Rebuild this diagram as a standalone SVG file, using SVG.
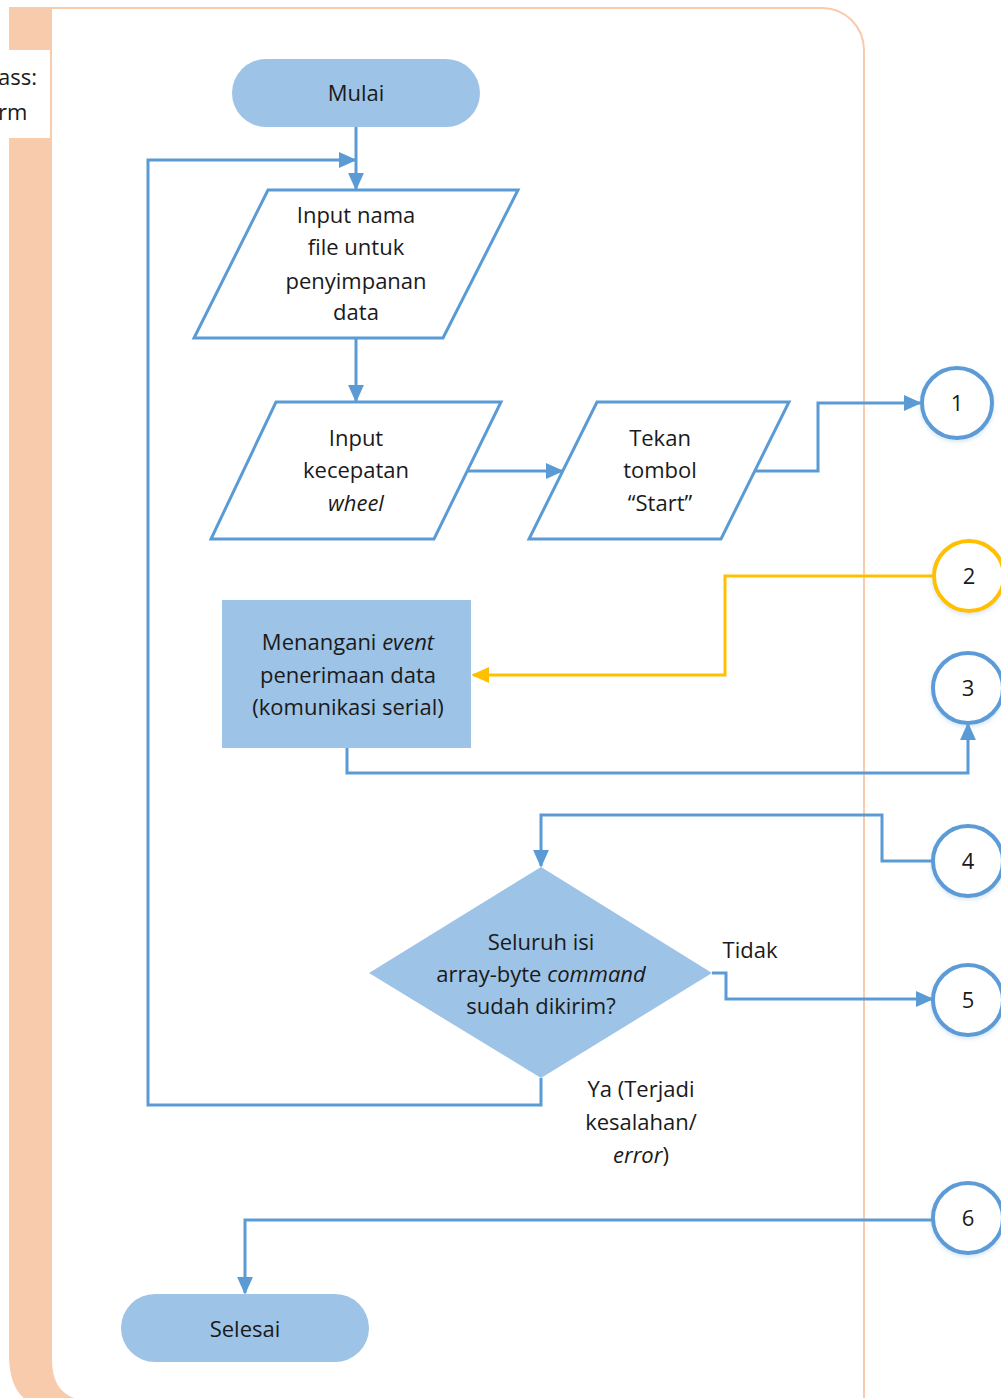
<svg xmlns="http://www.w3.org/2000/svg" width="1001" height="1398" viewBox="0 0 1001 1398">
<defs>
<style>
.t{font-family:"Open Sans","Liberation Sans",sans-serif;font-size:22px;fill:#1a1a1a;text-anchor:middle}
.i{font-style:italic}
.ln{fill:none;stroke:#5B9BD5;stroke-width:3}
.yl{fill:none;stroke:#FFC000;stroke-width:3}
.io{fill:#fff;stroke:#5B9BD5;stroke-width:3}
.fl{fill:#9DC3E6}
.cc{fill:#fff;stroke:#5B9BD5;stroke-width:4;filter:url(#sh)}
</style>
<marker id="ab" viewBox="0 0 10 10" refX="9" refY="5" markerWidth="18" markerHeight="16" orient="auto-start-reverse" markerUnits="userSpaceOnUse" preserveAspectRatio="none">
<path d="M0,0 L10,5 L0,10 z" fill="#5B9BD5"/>
</marker>
<marker id="ay" viewBox="0 0 10 10" refX="9" refY="5" markerWidth="18" markerHeight="16" orient="auto-start-reverse" markerUnits="userSpaceOnUse" preserveAspectRatio="none">
<path d="M0,0 L10,5 L0,10 z" fill="#FFC000"/>
</marker>
<filter id="sh" x="-30%" y="-30%" width="160%" height="160%">
<feDropShadow dx="0" dy="2" stdDeviation="2" flood-color="#5B9BD5" flood-opacity="0.25"/>
</filter>
</defs>

<g id="panel">
<path d="M10,8 H822 A42,42 0 0 1 864,50 V1398 H25 Q10,1385 10,1355 Z" fill="#F8CBAD" stroke="#F8CBAD" stroke-width="2"/>
<path d="M52,9 H822 A41,41 0 0 1 863,50 V1398 H74 Q52,1390 52,1360 Z" fill="#fff"/>
<rect x="0" y="50" width="50" height="88" fill="#fff"/>
<text x="-2" y="85" style="font-family:'Open Sans','Liberation Sans',sans-serif;font-size:22px;fill:#1a1a1a">ass:</text>
<text x="-2" y="120" style="font-family:'Open Sans','Liberation Sans',sans-serif;font-size:22px;fill:#1a1a1a">rm</text>
</g>

<g id="connectors">
<path class="ln" d="M356,127 V189" marker-end="url(#ab)"/>
<path class="ln" d="M541,1078 V1105 H148 V160 H355" marker-end="url(#ab)"/>
<path class="ln" d="M356,338 V401" marker-end="url(#ab)"/>
<path class="ln" d="M467,471 H562" marker-end="url(#ab)"/>
<path class="ln" d="M755,471 H818 V403 H920" marker-end="url(#ab)"/>
<path class="yl" d="M934,576 H725 V675 H473" marker-end="url(#ay)"/>
<path class="ln" d="M347,748 V773 H968 V724" marker-end="url(#ab)"/>
<path class="ln" d="M933,861 H882 V815 H541 V866" marker-end="url(#ab)"/>
<path class="ln" d="M712,973 H726 V999 H932" marker-end="url(#ab)"/>
<path class="ln" d="M933,1220 H245 V1293" marker-end="url(#ab)"/>
<text class="t" x="750" y="958">Tidak</text>
<text class="t" x="641" y="1097">Ya (Terjadi</text>
<text class="t" x="641" y="1130">kesalahan/</text>
<text class="t" x="641" y="1163"><tspan class="i">error</tspan>)</text>
</g>

<g id="mulai">
<rect class="fl" x="232" y="59" width="248" height="68" rx="34"/>
<text class="t" x="356" y="101">Mulai</text>
</g>

<g id="input-file">
<path class="io" d="M268,190 H518 L443,338 H194 Z"/>
<text class="t" x="356" y="223">Input nama</text>
<text class="t" x="356" y="255">file untuk</text>
<text class="t" x="356" y="289">penyimpanan</text>
<text class="t" x="356" y="320">data</text>
</g>

<g id="input-kecepatan">
<path class="io" d="M276,402 H501 L434,539 H211 Z"/>
<text class="t" x="356" y="446">Input</text>
<text class="t" x="356" y="478">kecepatan</text>
<text class="t i" x="356" y="511">wheel</text>
</g>

<g id="tekan-start">
<path class="io" d="M597,402 H789 L721,539 H529 Z"/>
<text class="t" x="660" y="446">Tekan</text>
<text class="t" x="660" y="478">tombol</text>
<text class="t" x="660" y="511">“Start”</text>
</g>

<g id="menangani">
<rect class="fl" x="222" y="600" width="249" height="148"/>
<text class="t" x="348" y="650">Menangani <tspan class="i">event</tspan></text>
<text class="t" x="348" y="683">penerimaan data</text>
<text class="t" x="348" y="715">(komunikasi serial)</text>
</g>

<g id="decision">
<path class="fl" d="M541,867 L712,973 L541,1078 L369,973 Z"/>
<text class="t" x="541" y="950">Seluruh isi</text>
<text class="t" x="541" y="982">array-byte <tspan class="i">command</tspan></text>
<text class="t" x="541" y="1014">sudah dikirim?</text>
</g>

<g id="selesai">
<rect class="fl" x="121" y="1294" width="248" height="68" rx="34"/>
<text class="t" x="245" y="1337">Selesai</text>
</g>

<g id="c1"><circle class="cc" cx="957" cy="403" r="35"/><text class="t" x="957" y="411">1</text></g>
<g id="c2"><circle class="cc" cx="969" cy="576" r="35" style="stroke:#FFC000"/><text class="t" x="969" y="584">2</text></g>
<g id="c3"><circle class="cc" cx="968" cy="688" r="35"/><text class="t" x="968" y="696">3</text></g>
<g id="c4"><circle class="cc" cx="968" cy="861" r="35"/><text class="t" x="968" y="869">4</text></g>
<g id="c5"><circle class="cc" cx="968" cy="1000" r="35"/><text class="t" x="968" y="1008">5</text></g>
<g id="c6"><circle class="cc" cx="968" cy="1218" r="35"/><text class="t" x="968" y="1226">6</text></g>
</svg>
